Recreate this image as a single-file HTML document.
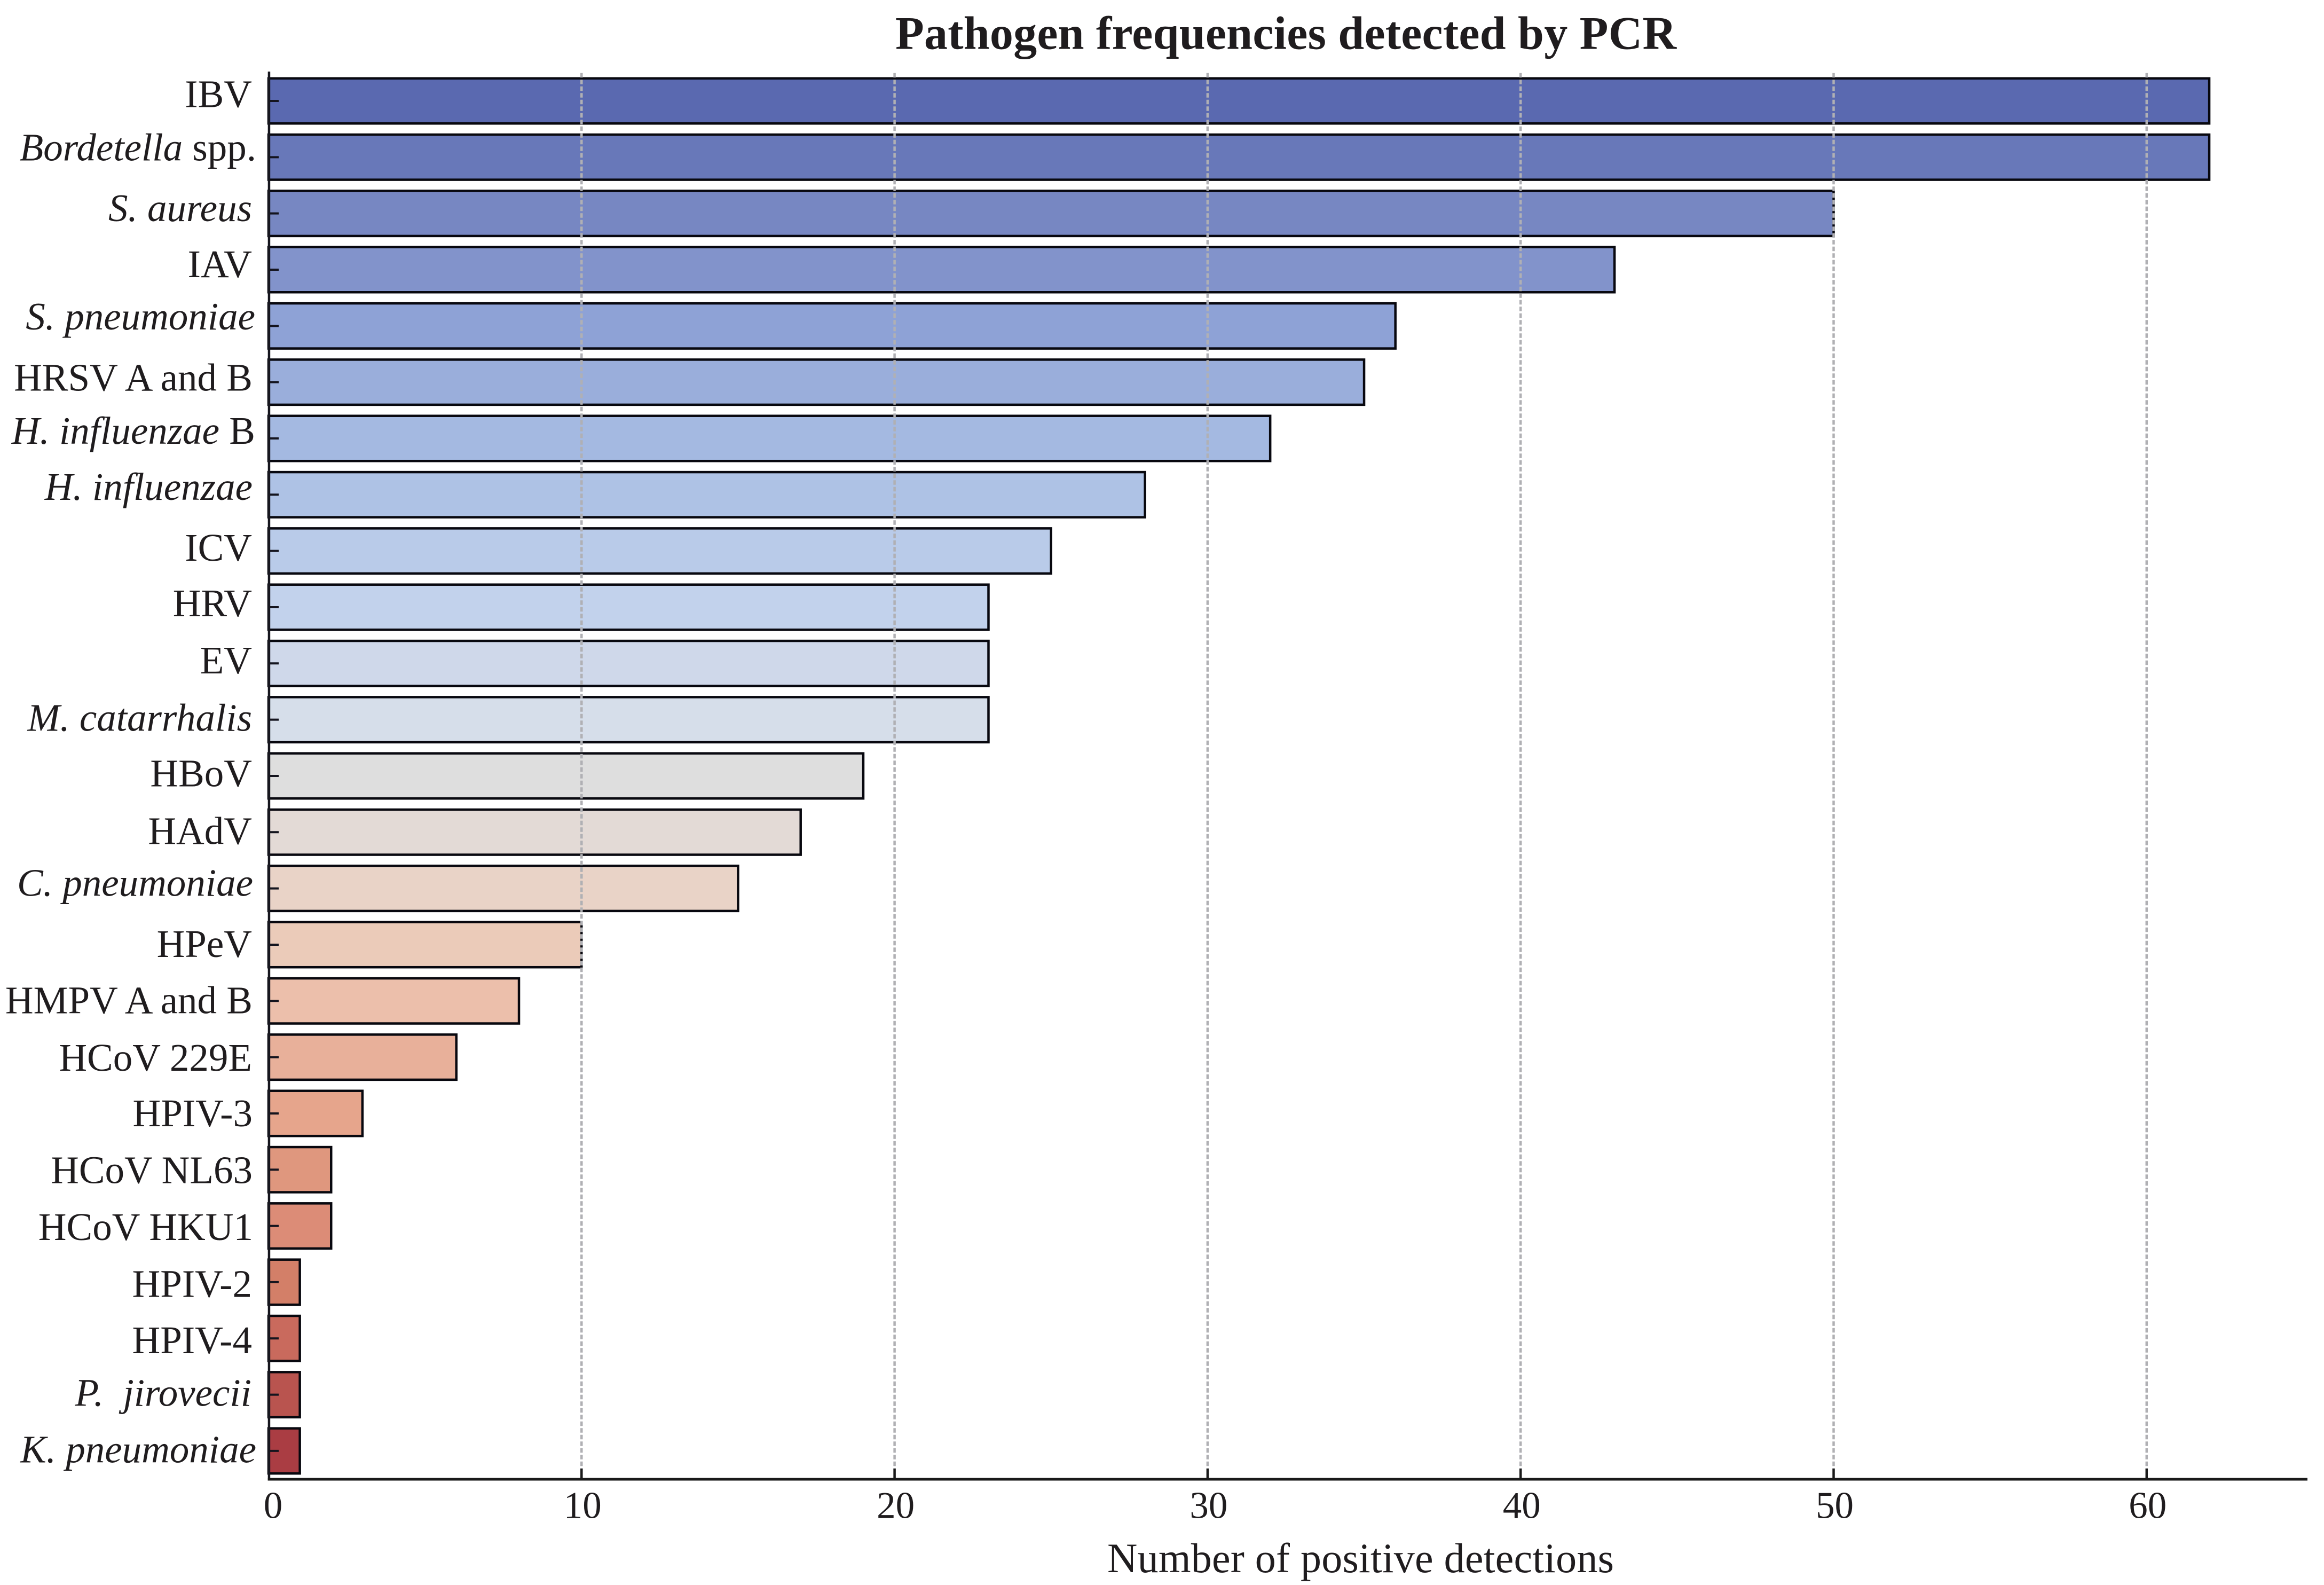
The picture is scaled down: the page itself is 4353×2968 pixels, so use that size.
<!DOCTYPE html>
<html lang="en">
<head>
<meta charset="utf-8">
<title>Pathogen frequencies detected by PCR</title>
<style>
  html, body { margin: 0; padding: 0; background: #fff; }
  svg { display: block; }
  text { font-family: "Liberation Serif", serif; fill: #1f1c1e; }
  .cat { font-size: 73px; text-anchor: end; white-space: pre; }
  .cat .it { font-style: italic; }
  .tick-label { font-size: 71px; text-anchor: middle; }
</style>
</head>
<body>
<svg id="chart" xmlns="http://www.w3.org/2000/svg" width="4353" height="2968" viewBox="0 0 4353 2968">
  <rect x="0" y="0" width="4353" height="2968" fill="#ffffff"/>
  <text x="1677" y="91.7" font-size="88" font-weight="700" textLength="1463">Pathogen frequencies detected by PCR</text>
  <g id="bars"></g>
  <g id="grid"></g>
  <g id="ticks"></g>
  <rect x="501.7" y="134" width="4.5" height="2638.5" fill="#16161e"/>
  <rect x="501.7" y="2767.5" width="3820.3" height="5" fill="#1a1a1a"/>
  <g id="x-tick-labels"></g>
  <g>
    <text class="cat" x="472" y="200.6">IBV</text>
    <text class="cat" x="480" y="300.5"><tspan class="it">Bordetella</tspan> spp.</text>
    <text class="cat" x="472" y="414"><tspan class="it">S. aureus</tspan></text>
    <text class="cat" x="472" y="519">IAV</text>
    <text class="cat" x="478" y="617"><tspan class="it">S. pneumoniae</tspan></text>
    <text class="cat" x="473" y="731.3">HRSV A and B</text>
    <text class="cat" x="478" y="831"><tspan class="it">H. influenzae</tspan> B</text>
    <text class="cat" x="473" y="935.8"><tspan class="it">H. influenzae</tspan></text>
    <text class="cat" x="472" y="1049.8">ICV</text>
    <text class="cat" x="472" y="1153.8">HRV</text>
    <text class="cat" x="472" y="1261">EV</text>
    <text class="cat" x="472" y="1368.4"><tspan class="it">M. catarrhalis</tspan></text>
    <text class="cat" x="472" y="1472.7">HBoV</text>
    <text class="cat" x="472" y="1580.5">HAdV</text>
    <text class="cat" x="474" y="1677.3"><tspan class="it">C. pneumoniae</tspan></text>
    <text class="cat" x="472" y="1792">HPeV</text>
    <text class="cat" x="473" y="1897.4">HMPV A and B</text>
    <text class="cat" x="472" y="2004.8">HCoV 229E</text>
    <text class="cat" x="473" y="2109">HPIV-3</text>
    <text class="cat" x="473" y="2215.6">HCoV NL63</text>
    <text class="cat" x="474" y="2322">HCoV HKU1</text>
    <text class="cat" x="472" y="2428.4">HPIV-2</text>
    <text class="cat" x="472" y="2533.8">HPIV-4</text>
    <text class="cat" x="471" y="2632.6"><tspan class="it">P.&#160;&#160;jirovecii</tspan></text>
    <text class="cat" x="480" y="2738.3"><tspan class="it">K. pneumoniae</tspan></text>
  </g>
  <text x="2074" y="2944" font-size="78" textLength="949">Number of positive detections</text>
</svg>
<script>
const categories = ["IBV","Bordetella spp.","S. aureus","IAV","S. pneumoniae","HRSV A and B","H. influenzae B","H. influenzae","ICV","HRV","EV","M. catarrhalis","HBoV","HAdV","C. pneumoniae","HPeV","HMPV A and B","HCoV 229E","HPIV-3","HCoV NL63","HCoV HKU1","HPIV-2","HPIV-4","P. jirovecii","K. pneumoniae"];
const detections = [62,62,50,43,36,35,32,28,25,23,23,23,19,17,15,10,8,6,3,2,2,1,1,1,1];
const xTicks = [0,10,20,30,40,50,60];
const barFills = ["#5a69b0","#6878b9","#7787c2","#8293cb","#8ea2d6","#9aaedb","#a4b9e1","#aec2e5","#b9cbe9","#c2d2ec","#cfd8ea","#d6deea","#dedede","#e3dad6","#e9d3c7","#ebcbb9","#ecbfab","#e8b09a","#e6a58c","#df977e","#dc8c77","#d37f68","#c96a5d","#b9544f","#aa3d43"];

const SVGNS = "http://www.w3.org/2000/svg";
const xScale = v => 503 + v * 58.63;
const yCenter = i => 189 + i * 105.33;
const BAR_H = 84.5;
const GRID_TOP = 136.7, GRID_BOTTOM = 2750, AXIS_Y = 2770;

const make = (tag, attrs) => {
  const el = document.createElementNS(SVGNS, tag);
  for (const k in attrs) el.setAttribute(k, attrs[k]);
  return el;
};
const slug = s => s.toLowerCase().replace(/[^a-z0-9]+/g, "-").replace(/-$/, "");

const barsG = document.getElementById("bars");
const gridG = document.getElementById("grid");
const ticksG = document.getElementById("ticks");
const xLabelsG = document.getElementById("x-tick-labels");

detections.forEach((v, i) => {
  const bar = make("rect", {
    x: xScale(0),
    y: yCenter(i) - BAR_H / 2,
    width: xScale(v) - xScale(0),
    height: BAR_H,
    fill: barFills[i],
    stroke: "#08080f",
    "stroke-width": 4.5
  });
  
  
  barsG.appendChild(bar);
});

xTicks.forEach(t => {
  if (t > 0) {
    const line = make("line", {
      x1: xScale(t), x2: xScale(t), y1: GRID_TOP, y2: GRID_BOTTOM,
      stroke: "#b0b0b4", "stroke-width": 4.5, "stroke-dasharray": "8.5 4"
    });
    
    
    gridG.appendChild(line);

    const tick = make("line", {
      x1: xScale(t), x2: xScale(t), y1: GRID_BOTTOM, y2: AXIS_Y,
      stroke: "#1a1a1a", "stroke-width": 4.5
    });
    
    
    ticksG.appendChild(tick);
  }
  const label = make("text", {
    class: "tick-label",
    x: xScale(t) + (t === 0 ? 8.5 : 2),
    y: 2842.7
  });
  label.textContent = String(t);
  
  
  xLabelsG.appendChild(label);
});

categories.forEach((c, i) => {
  const tick = make("line", {
    x1: 504, x2: 522, y1: yCenter(i), y2: yCenter(i),
    stroke: "#14141e", "stroke-width": 4
  });
  
  
  ticksG.appendChild(tick);
});
</script>
</body>
</html>
